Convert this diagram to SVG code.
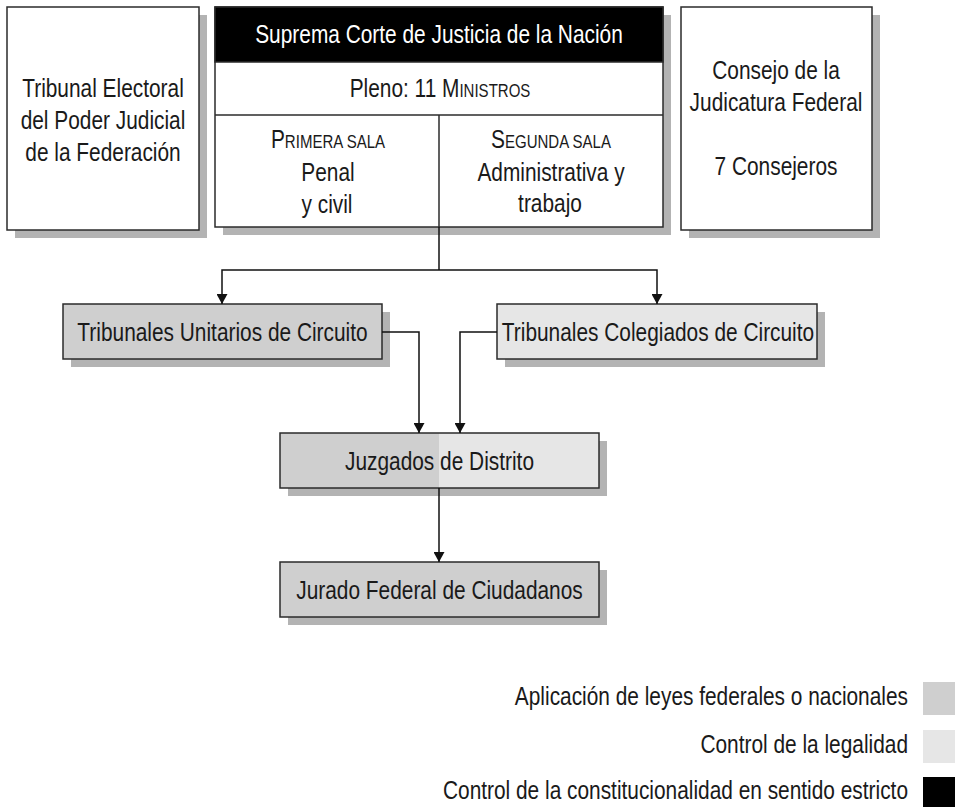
<svg xmlns="http://www.w3.org/2000/svg" width="955" height="807" viewBox="0 0 955 807">
  <style>
    .t { font-family: "Liberation Sans", Arial, sans-serif; font-size: 25px; text-anchor: middle; fill: #1a1a1a; }
    .w { fill: #ffffff; }
    .e { text-anchor: end; }
    .sc { font-size: 18px; }
    .box { stroke: #2b2b2b; stroke-width: 1.5; }
    .white { fill: #ffffff; }
    .g1 { fill: #cfcfcf; }
    .g2 { fill: #e6e6e6; }
    .shadow { fill: #b3b3b3; }
    .conn { fill: none; stroke: #111111; stroke-width: 1.5; }
  </style>
  <defs>
    <marker id="arrow" viewBox="0 0 10 11" refX="10" refY="5.5" markerWidth="10" markerHeight="11" markerUnits="userSpaceOnUse" orient="auto">
      <path d="M0,0 L10,5.5 L0,11 Z" fill="#111111"/>
    </marker>
  </defs>
  <rect x="0" y="0" width="955" height="807" fill="#ffffff"/>

  <g id="tribunal-electoral">
    <rect class="shadow" x="15" y="15" width="192" height="223"/>
    <rect class="box white" x="7" y="7" width="192" height="223"/>
    <text class="t" transform="translate(103 97) scale(0.835 1)">Tribunal Electoral</text>
    <text class="t" transform="translate(103 129) scale(0.835 1)">del Poder Judicial</text>
    <text class="t" transform="translate(103 161) scale(0.835 1)">de la Federación</text>
  </g>

  <g id="suprema-corte">
    <rect class="shadow" x="223" y="15" width="448" height="220"/>
    <rect class="box white" x="215" y="7" width="448" height="220"/>
    <rect x="215" y="7" width="448" height="55" fill="#000000" stroke="#2b2b2b" stroke-width="1.5"/>
    <line x1="215" y1="115" x2="663" y2="115" stroke="#2b2b2b" stroke-width="1.5"/>
    <line x1="439" y1="115" x2="439" y2="227" stroke="#2b2b2b" stroke-width="1.5"/>
    <text class="t w" transform="translate(439 43) scale(0.835 1)">Suprema Corte de Justicia de la Nación</text>
    <text class="t" transform="translate(440 97) scale(0.835 1)">Pleno: 11 M<tspan class="sc">INISTROS</tspan></text>
    <text class="t" transform="translate(328 148) scale(0.835 1)">P<tspan class="sc">RIMERA SALA</tspan></text>
    <text class="t" transform="translate(328 181) scale(0.835 1)">Penal</text>
    <text class="t" transform="translate(327 213) scale(0.835 1)">y civil</text>
    <text class="t" transform="translate(551 148) scale(0.835 1)">S<tspan class="sc">EGUNDA SALA</tspan></text>
    <text class="t" transform="translate(551 181) scale(0.835 1)">Administrativa y</text>
    <text class="t" transform="translate(550 212) scale(0.835 1)">trabajo</text>
  </g>

  <g id="consejo-judicatura">
    <rect class="shadow" x="689" y="15" width="191" height="223"/>
    <rect class="box white" x="681" y="7" width="191" height="223"/>
    <text class="t" transform="translate(776 79) scale(0.835 1)">Consejo de la</text>
    <text class="t" transform="translate(776 111) scale(0.835 1)">Judicatura Federal</text>
    <text class="t" transform="translate(776 175) scale(0.835 1)">7 Consejeros</text>
  </g>

  <g id="tribunales-unitarios">
    <rect class="shadow" x="71" y="312" width="319" height="55"/>
    <rect class="box g1" x="63" y="304" width="319" height="55"/>
    <text class="t" transform="translate(222.5 341) scale(0.835 1)">Tribunales Unitarios de Circuito</text>
  </g>

  <g id="tribunales-colegiados">
    <rect class="shadow" x="505" y="312" width="320" height="55"/>
    <rect class="box g2" x="497" y="304" width="320" height="55"/>
    <text class="t" transform="translate(658 341) scale(0.835 1)">Tribunales Colegiados de Circuito</text>
  </g>

  <g id="juzgados-distrito">
    <rect class="shadow" x="288" y="441" width="319" height="55"/>
    <rect class="g1" x="280" y="433" width="159" height="55"/>
    <rect class="g2" x="439" y="433" width="160" height="55"/>
    <rect class="box" x="280" y="433" width="319" height="55" fill="none"/>
    <text class="t" transform="translate(439.5 470) scale(0.835 1)">Juzgados de Distrito</text>
  </g>

  <g id="jurado-federal">
    <rect class="shadow" x="288" y="570" width="319" height="55"/>
    <rect class="box g1" x="280" y="562" width="319" height="55"/>
    <text class="t" transform="translate(439.5 599) scale(0.835 1)">Jurado Federal de Ciudadanos</text>
  </g>

  <g id="connectors">
    <polyline class="conn" points="439,227 439,270"/>
    <polyline class="conn" points="439,270 222,270 222,304" marker-end="url(#arrow)"/>
    <polyline class="conn" points="439,270 657,270 657,304" marker-end="url(#arrow)"/>
    <polyline class="conn" points="382,332 419,332 419,433" marker-end="url(#arrow)"/>
    <polyline class="conn" points="497,332 460,332 460,433" marker-end="url(#arrow)"/>
    <polyline class="conn" points="439,488 439,562" marker-end="url(#arrow)"/>
  </g>

  <g id="legend">
    <rect class="g1" x="923" y="682" width="32" height="33"/>
    <text class="t e" transform="translate(908 705) scale(0.835 1)">Aplicación de leyes federales o nacionales</text>
    <rect class="g2" x="923" y="730" width="32" height="33"/>
    <text class="t e" transform="translate(908 753) scale(0.835 1)">Control de la legalidad</text>
    <rect x="923" y="777" width="32" height="33" fill="#000000"/>
    <text class="t e" transform="translate(908 799) scale(0.835 1)">Control de la constitucionalidad en sentido estricto</text>
  </g>
</svg>
